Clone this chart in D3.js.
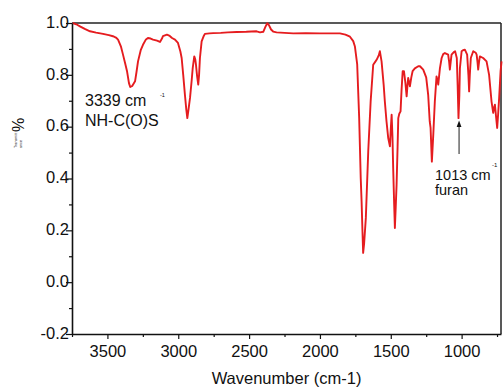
<!DOCTYPE html>
<html>
<head>
<meta charset="utf-8">
<script src="https://cdn.jsdelivr.net/npm/d3@7"></script>
<style>
  html, body { margin: 0; padding: 0; background: #fff; }
  svg { display: block; font-family: "Liberation Sans", Arial, sans-serif; }
</style>
</head>
<body>
<svg id="chart" width="503" height="389"></svg>
<script>
// ---- data ----
const wavenumber = [
  3745, 3720, 3694, 3660, 3623, 3580, 3531, 3490, 3461, 3440, 3425, 3405, 3390, 3375, 3362, 3348, 3339, 3325, 3305, 3295,
  3284, 3265, 3249, 3230, 3214, 3195, 3178, 3150, 3129, 3115, 3108, 3080, 3060, 3044, 3023, 3002, 2985, 2976, 2965, 2953,
  2943, 2936, 2928, 2917, 2905, 2898, 2887, 2880, 2875, 2867, 2859, 2853, 2847, 2835, 2820, 2812, 2780, 2753, 2700, 2650,
  2588, 2520, 2447, 2423, 2400, 2385, 2372, 2360, 2345, 2330, 2306, 2250, 2188, 2100, 2000, 1930, 1859, 1820, 1788, 1765,
  1753, 1737, 1723, 1712, 1706, 1700, 1695, 1688, 1676, 1659, 1642, 1624, 1610, 1600, 1585, 1577, 1565, 1550, 1542, 1530,
  1518, 1506, 1500, 1494, 1488, 1483, 1476, 1471, 1465, 1459, 1452, 1447, 1440, 1431, 1424, 1416, 1407, 1397, 1388, 1382,
  1377, 1370, 1365, 1355, 1346, 1330, 1306, 1294, 1271, 1250, 1236, 1225, 1219, 1210, 1200, 1189, 1177, 1170, 1165, 1153,
  1141, 1130, 1118, 1095, 1088, 1083, 1077, 1071, 1055, 1046, 1034, 1028, 1022, 1016, 1012, 1000, 990, 977, 961, 952,
  947, 942, 935, 918, 900, 894, 888, 883, 877, 871, 848, 824, 806, 789, 777, 770, 765, 757, 749, 742,
  735, 725, 718
];
const transmittance = [
  1.000, 0.995, 0.987, 0.977, 0.968, 0.963, 0.958, 0.953, 0.949, 0.944, 0.936, 0.910, 0.878, 0.845, 0.815, 0.768, 0.753, 0.757, 0.775, 0.810,
  0.852, 0.895, 0.916, 0.935, 0.942, 0.940, 0.936, 0.932, 0.927, 0.940, 0.949, 0.955, 0.950, 0.942, 0.936, 0.923, 0.890, 0.865, 0.800, 0.723,
  0.665, 0.633, 0.665, 0.711, 0.780, 0.826, 0.871, 0.860, 0.839, 0.795, 0.762, 0.800, 0.865, 0.929, 0.950, 0.958, 0.960, 0.961, 0.962, 0.964,
  0.965, 0.966, 0.968, 0.964, 0.966, 0.985, 0.999, 0.992, 0.975, 0.967, 0.964, 0.962, 0.960, 0.961, 0.960, 0.960, 0.960, 0.955, 0.947, 0.930,
  0.909, 0.840, 0.633, 0.400, 0.312, 0.200, 0.113, 0.150, 0.248, 0.505, 0.698, 0.839, 0.850, 0.858, 0.875, 0.891, 0.852, 0.760, 0.698, 0.620,
  0.556, 0.524, 0.590, 0.646, 0.560, 0.440, 0.300, 0.209, 0.290, 0.376, 0.520, 0.633, 0.650, 0.659, 0.740, 0.814, 0.814, 0.770, 0.717, 0.760,
  0.788, 0.770, 0.756, 0.790, 0.814, 0.825, 0.833, 0.833, 0.820, 0.790, 0.723, 0.620, 0.595, 0.465, 0.569, 0.698, 0.794, 0.780, 0.762, 0.826,
  0.865, 0.880, 0.884, 0.878, 0.850, 0.820, 0.850, 0.878, 0.888, 0.891, 0.865, 0.760, 0.633, 0.720, 0.826, 0.891, 0.895, 0.897, 0.878, 0.800,
  0.736, 0.800, 0.865, 0.891, 0.885, 0.878, 0.850, 0.820, 0.850, 0.871, 0.865, 0.852, 0.800, 0.698, 0.653, 0.675, 0.685, 0.640, 0.595, 0.650,
  0.711, 0.814, 0.852
];
const xMajorTicks = [3500, 3000, 2500, 2000, 1500, 1000];
const xMinorTicks = [3750, 3250, 2750, 2250, 1750, 1250, 750];
const yMajorTicks = [1.0, 0.8, 0.6, 0.4, 0.2, 0.0, -0.2];
const yMinorTicks = [0.9, 0.7, 0.5, 0.3, 0.1, -0.1];
const yTickLabels = ["1.0", "0.8", "0.6", "0.4", "0.2", "0.0", "-0.2"];

const svg = d3.select("#chart");
const pLeft = 72, pRight = 501, pTop = 23, pBottom = 334;

const x = d3.scaleLinear().domain([3750, 722]).range([pLeft, pRight]);
const y = d3.scaleLinear().domain([-0.2, 1.0]).range([pBottom, pTop]);

// frame (top and right)
svg.append("line").attr("x1", pLeft).attr("x2", pRight).attr("y1", pTop).attr("y2", pTop)
  .attr("stroke", "#222").attr("stroke-width", 1.5);
svg.append("line").attr("x1", pRight).attr("x2", pRight).attr("y1", pTop).attr("y2", pBottom)
  .attr("stroke", "#222").attr("stroke-width", 1.5);

// spectrum
const pts = wavenumber.map((w, i) => [w, transmittance[i]]);
svg.append("path")
  .datum(pts)
  .attr("fill", "none")
  .attr("stroke", "#e51c1f")
  .attr("stroke-width", 1.9)
  .attr("stroke-linejoin", "round")
  .attr("d", d3.line().x(d => x(d[0])).y(d => y(d[1])));

// x axis
const gx = svg.append("g").attr("transform", `translate(0,${pBottom})`);
gx.call(d3.axisBottom(x).tickValues(xMajorTicks).tickSize(5).tickSizeOuter(0).tickFormat(d3.format("d")));
gx.append("g").call(d3.axisBottom(x).tickValues(xMinorTicks).tickSize(3).tickSizeOuter(0).tickFormat(""))
  .select(".domain").remove();
gx.selectAll("text").attr("y", 23).attr("dy", null).attr("font-size", 16.5)
  .attr("font-family", "Liberation Sans, Arial, sans-serif").attr("fill", "#111");

// y axis
const gy = svg.append("g").attr("transform", `translate(${pLeft},0)`);
gy.call(d3.axisLeft(y).tickValues(yMajorTicks).tickSize(6).tickSizeOuter(0)
  .tickFormat((d, i) => yTickLabels[i]));
gy.append("g").call(d3.axisLeft(y).tickValues(yMinorTicks).tickSize(3).tickSizeOuter(0).tickFormat(""))
  .select(".domain").remove();
gy.selectAll("text").attr("x", -3).attr("dy", null).attr("y", 4.2).attr("font-size", 16.5)
  .attr("font-family", "Liberation Sans, Arial, sans-serif").attr("fill", "#111");

svg.selectAll(".domain").attr("stroke", "#111").attr("stroke-width", 1.6);
svg.selectAll(".tick line").attr("stroke", "#111").attr("stroke-width", 1.2);

// axis titles
svg.append("text").attr("x", (pLeft + pRight) / 2).attr("y", 384).attr("text-anchor", "middle")
  .attr("font-size", 16.5).attr("fill", "#111").text("Wavenumber (cm-1)");

const yl = svg.append("g");
yl.append("text").attr("transform", "translate(24,125) rotate(-90)").attr("text-anchor", "middle")
  .attr("font-size", 16).attr("fill", "#111").text("%");
yl.append("text").attr("transform", "translate(17,148) rotate(-90)").attr("text-anchor", "start")
  .attr("font-size", 3.7).attr("fill", "#111").text("Transmitt");
yl.append("text").attr("transform", "translate(21.7,148) rotate(-90)").attr("text-anchor", "start")
  .attr("font-size", 3.7).attr("fill", "#111").text("ance");

// annotations
svg.append("text").attr("x", 85).attr("y", 105.5).attr("font-size", 16).attr("fill", "#111").text("3339 cm");
svg.append("text").attr("x", 160).attr("y", 97).attr("font-size", 5.5).attr("fill", "#111").text("-1");
svg.append("text").attr("x", 85).attr("y", 126).attr("font-size", 16).attr("fill", "#111").text("NH-C(O)S");

svg.append("text").attr("x", 435).attr("y", 179.5).attr("font-size", 14.5).attr("fill", "#111").text("1013 cm");
svg.append("text").attr("x", 492).attr("y", 166.5).attr("font-size", 6).attr("fill", "#111").text("-1");
svg.append("text").attr("x", 435).attr("y", 194.5).attr("font-size", 14.5).attr("fill", "#111").text("furan");

const ax = x(1018);
svg.append("line").attr("x1", ax).attr("x2", ax).attr("y1", 154).attr("y2", 125)
  .attr("stroke", "#333").attr("stroke-width", 1.1);
svg.append("path").attr("d", `M${ax},120.5 L${ax - 2.4},127 L${ax + 2.4},127 Z`).attr("fill", "#111");
</script>
</body>
</html>
